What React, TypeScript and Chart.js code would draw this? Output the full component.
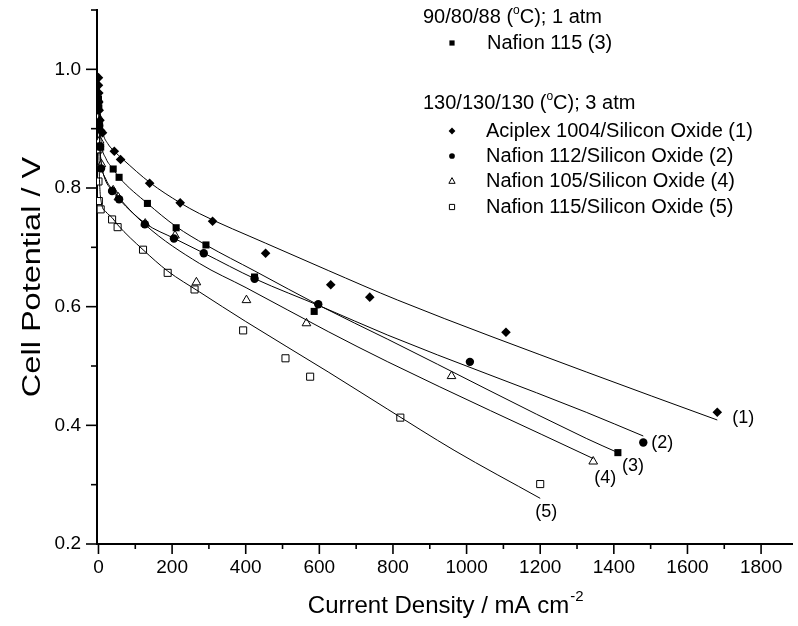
import React, { useEffect, useRef } from 'react';
import { Chart, registerables } from 'chart.js';

Chart.register(...registerables);

const FONT = '"Liberation Sans", Arial, Helvetica, sans-serif';

// ---- axes ----
const xMajorTicks = [0, 200, 400, 600, 800, 1000, 1200, 1400, 1600, 1800];
const xMinorTicks = [100, 300, 500, 700, 900, 1100, 1300, 1500, 1700];
const yMajorTicks = [0.2, 0.4, 0.6, 0.8, 1.0];
const yMinorTicks = [0.3, 0.5, 0.7, 0.9, 1.1];
const yTickLabels = ['0.2', '0.4', '0.6', '0.8', '1.0'];

// ---- measured points ----
// (1) Aciplex 1004/Silicon Oxide — diamonds
const aciplexX = [0, 0, 1, 1, 2, 4, 6, 11, 43, 60, 139, 222, 310, 454, 631, 737, 1107, 1681];
const aciplexY = [0.986, 0.973, 0.96, 0.945, 0.931, 0.914, 0.897, 0.893, 0.862, 0.848, 0.808, 0.775, 0.744, 0.69, 0.637, 0.616, 0.557, 0.422];
// (2) Nafion 112/Silicon Oxide — filled circles
const n112X = [0, 2, 4, 7, 37, 56, 126, 205, 286, 424, 597, 1009, 1480];
const n112Y = [0.945, 0.905, 0.87, 0.833, 0.795, 0.781, 0.739, 0.715, 0.69, 0.647, 0.604, 0.507, 0.371];
// (3) Nafion 115 — filled squares
const n115X = [0, 1, 3, 6, 40, 56, 133, 211, 292, 424, 586, 1411];
const n115Y = [0.95, 0.935, 0.905, 0.869, 0.832, 0.818, 0.774, 0.733, 0.704, 0.65, 0.592, 0.354];
// (4) Nafion 105/Silicon Oxide — open triangles
const n105X = [0, 3, 8, 40, 54, 127, 208, 266, 402, 565, 959, 1344];
const n105Y = [0.92, 0.88, 0.84, 0.796, 0.784, 0.74, 0.72, 0.641, 0.611, 0.572, 0.483, 0.339];
// (5) Nafion 115/Silicon Oxide — open squares
const n115sX = [0, 0, 1, 6, 37, 52, 121, 188, 261, 393, 508, 575, 820, 1200];
const n115sY = [0.865, 0.811, 0.778, 0.764, 0.747, 0.734, 0.696, 0.657, 0.629, 0.56, 0.513, 0.482, 0.413, 0.301];

// ---- fitted curves ----
const fit1X = [1, 3, 6, 12, 25, 43, 67, 140, 222, 274, 454, 624, 813, 1325, 1681];
const fit1Y = [0.985, 0.945, 0.918, 0.893, 0.875, 0.862, 0.848, 0.809, 0.775, 0.757, 0.707, 0.661, 0.611, 0.49, 0.409];
const fit2X = [1, 3, 7, 15, 38, 56, 128, 206, 287, 425, 606, 786, 1325, 1480];
const fit2Y = [0.93, 0.88, 0.845, 0.82, 0.795, 0.781, 0.74, 0.715, 0.69, 0.647, 0.6, 0.552, 0.422, 0.382];
const fit3X = [1, 3, 8, 20, 40, 56, 133, 211, 292, 425, 606, 786, 1325, 1411];
const fit3Y = [0.95, 0.915, 0.875, 0.85, 0.832, 0.818, 0.774, 0.735, 0.704, 0.66, 0.6, 0.545, 0.378, 0.354];
const fit4X = [1, 3, 8, 20, 40, 127, 274, 401, 624, 786, 1344];
const fit4Y = [0.93, 0.88, 0.84, 0.815, 0.796, 0.738, 0.673, 0.632, 0.558, 0.507, 0.344];
const fit5X = [1, 3, 8, 20, 37, 52, 121, 188, 274, 400, 624, 786, 966, 1200];
const fit5Y = [0.86, 0.81, 0.775, 0.76, 0.75, 0.738, 0.696, 0.66, 0.625, 0.575, 0.49, 0.427, 0.358, 0.277];

const curveLabels = ['(1)', '(2)', '(3)', '(4)', '(5)'];

const legendHeader1 = ['90/80/88 (', 'o', 'C); 1 atm'];
const legendHeader2 = ['130/130/130 (', 'o', 'C); 3 atm'];
const legendItem1 = 'Nafion 115 (3)';
const legendItems2 = [
  'Aciplex 1004/Silicon Oxide (1)',
  'Nafion 112/Silicon Oxide (2)',
  'Nafion 105/Silicon Oxide (4)',
  'Nafion 115/Silicon Oxide (5)',
];

const xTitle = 'Current Density / mA cm';
const xTitleSup = '-2';
const yTitle = 'Cell Potential / V';

const pts = (xs: number[], ys: number[]) => xs.map((x, i) => ({ x, y: ys[i] }));

function drawMarker(ctx: CanvasRenderingContext2D, kind: string, x: number, y: number, s: number) {
  ctx.save();
  ctx.fillStyle = '#000';
  ctx.strokeStyle = '#000';
  ctx.lineWidth = 1;
  ctx.beginPath();
  if (kind === 'rect') {
    ctx.rect(x - s, y - s, 2 * s, 2 * s);
    ctx.fill();
  } else if (kind === 'openrect') {
    ctx.fillStyle = '#fff';
    ctx.rect(x - s, y - s, 2 * s, 2 * s);
    ctx.fill();
    ctx.stroke();
  } else if (kind === 'diamond') {
    ctx.moveTo(x, y - s * 1.3);
    ctx.lineTo(x + s * 1.3, y);
    ctx.lineTo(x, y + s * 1.3);
    ctx.lineTo(x - s * 1.3, y);
    ctx.closePath();
    ctx.fill();
  } else if (kind === 'circle') {
    ctx.arc(x, y, s * 1.1, 0, Math.PI * 2);
    ctx.fill();
  } else if (kind === 'triangle') {
    ctx.fillStyle = '#fff';
    ctx.moveTo(x, y - s * 1.3);
    ctx.lineTo(x + s * 1.2, y + s * 0.9);
    ctx.lineTo(x - s * 1.2, y + s * 0.9);
    ctx.closePath();
    ctx.fill();
    ctx.stroke();
  }
  ctx.restore();
}

function drawSupText(ctx: CanvasRenderingContext2D, parts: string[], x: number, y: number, size: number) {
  ctx.font = `${size}px ${FONT}`;
  ctx.textBaseline = 'middle';
  ctx.textAlign = 'left';
  ctx.fillText(parts[0], x, y);
  let cx = x + ctx.measureText(parts[0]).width;
  ctx.font = `${Math.round(size * 0.62)}px ${FONT}`;
  ctx.fillText(parts[1], cx, y - size * 0.32);
  cx += ctx.measureText(parts[1]).width;
  ctx.font = `${size}px ${FONT}`;
  ctx.fillText(parts[2], cx, y);
}

const decorPlugin = {
  id: 'decor',
  afterDraw(chart: any) {
    const ctx: CanvasRenderingContext2D = chart.ctx;
    const xs = chart.scales.x;
    const ys = chart.scales.y;
    const { left, bottom, top } = chart.chartArea;
    ctx.save();
    ctx.strokeStyle = '#000';
    ctx.fillStyle = '#000';
    ctx.lineWidth = 1.6;
    const line = (x1: number, y1: number, x2: number, y2: number) => {
      ctx.beginPath();
      ctx.moveTo(x1, y1);
      ctx.lineTo(x2, y2);
      ctx.stroke();
    };
    xMajorTicks.forEach((v) => { const p = xs.getPixelForValue(v); line(p, bottom, p, bottom + 10); });
    xMinorTicks.forEach((v) => { const p = xs.getPixelForValue(v); line(p, bottom, p, bottom + 5); });
    yMajorTicks.forEach((v) => { const p = ys.getPixelForValue(v); line(left, p, left - 11, p); });
    yMinorTicks.forEach((v) => { const p = ys.getPixelForValue(v); line(left, p, left - 6, p); });

    // tick labels
    ctx.font = `19px ${FONT}`;
    ctx.textAlign = 'center';
    ctx.textBaseline = 'top';
    xMajorTicks.forEach((v) => ctx.fillText(String(v), xs.getPixelForValue(v), bottom + 14));
    ctx.textAlign = 'right';
    ctx.textBaseline = 'middle';
    yMajorTicks.forEach((v, i) => ctx.fillText(yTickLabels[i], left - 16, ys.getPixelForValue(v)));

    // axis titles
    ctx.font = `24px ${FONT}`;
    ctx.textAlign = 'left';
    ctx.textBaseline = 'middle';
    const w = ctx.measureText(xTitle).width;
    const tx = (chart.chartArea.left + chart.chartArea.right) / 2 - w / 2 - 6;
    ctx.fillText(xTitle, tx, 606);
    ctx.font = `15px ${FONT}`;
    ctx.fillText(xTitleSup, tx + w + 1, 597);

    ctx.save();
    ctx.translate(33, (top + bottom) / 2);
    ctx.rotate(-Math.PI / 2);
    ctx.scale(1.25, 1);
    ctx.font = `26px ${FONT}`;
    ctx.textAlign = 'center';
    ctx.textBaseline = 'middle';
    ctx.fillText(yTitle, 0, 0);
    ctx.restore();

    // curve labels
    const fits = [[fit1X, fit1Y], [fit2X, fit2Y], [fit3X, fit3Y], [fit4X, fit4Y], [fit5X, fit5Y]];
    const offs = [[15, -2], [8, 7], [4, 13], [1, 19], [-5, 14]];
    ctx.font = `18px ${FONT}`;
    ctx.textAlign = 'left';
    ctx.textBaseline = 'middle';
    fits.forEach(([fx, fy], i) => {
      const px = xs.getPixelForValue(fx[fx.length - 1]);
      const py = ys.getPixelForValue(fy[fy.length - 1]);
      ctx.fillText(curveLabels[i], px + offs[i][0], py + offs[i][1]);
    });

    // legend
    drawSupText(ctx, legendHeader1, 423, 17, 20);
    drawMarker(ctx, 'rect', 452, 43, 2.6);
    ctx.font = `20px ${FONT}`;
    ctx.textAlign = 'left';
    ctx.textBaseline = 'middle';
    ctx.fillText(legendItem1, 487, 43);
    drawSupText(ctx, legendHeader2, 423, 103, 20);
    const kinds = ['diamond', 'circle', 'triangle', 'openrect'];
    const rows = [131, 156, 181, 207];
    legendItems2.forEach((t, i) => {
      drawMarker(ctx, kinds[i], 452, rows[i], 2.6);
      ctx.font = `20px ${FONT}`;
      ctx.textAlign = 'left';
      ctx.textBaseline = 'middle';
      ctx.fillText(t, 486, rows[i]);
    });
    ctx.restore();
  },
};

const curve = (xs: number[], ys: number[]) => ({
  data: pts(xs, ys),
  showLine: true,
  borderColor: '#000',
  borderWidth: 1,
  pointRadius: 0,
  pointHoverRadius: 0,
  cubicInterpolationMode: 'monotone' as const,
  fill: false,
});

export default function App() {
  const ref = useRef<HTMLCanvasElement | null>(null);
  useEffect(() => {
    if (!ref.current) return;
    const chart = new Chart(ref.current, {
      type: 'scatter',
      data: {
        datasets: [
          curve(fit1X, fit1Y),
          curve(fit2X, fit2Y),
          curve(fit3X, fit3Y),
          curve(fit4X, fit4Y),
          curve(fit5X, fit5Y),
          {
            data: pts(aciplexX, aciplexY),
            pointStyle: 'rectRot',
            pointRadius: 4.8,
            backgroundColor: '#000',
            borderColor: '#000',
            borderWidth: 0,
          },
          {
            data: pts(n112X, n112Y),
            pointStyle: 'circle',
            pointRadius: 4.2,
            backgroundColor: '#000',
            borderColor: '#000',
            borderWidth: 0,
          },
          {
            data: pts(n115X, n115Y),
            pointStyle: 'rect',
            pointRadius: 5,
            backgroundColor: '#000',
            borderColor: '#000',
            borderWidth: 0,
          },
          {
            data: pts(n105X, n105Y),
            pointStyle: 'triangle',
            pointRadius: 5,
            backgroundColor: '#fff',
            borderColor: '#000',
            borderWidth: 1,
          },
          {
            data: pts(n115sX, n115sY),
            pointStyle: 'rect',
            pointRadius: 5,
            backgroundColor: '#fff',
            borderColor: '#000',
            borderWidth: 1,
          },
        ],
      },
      options: {
        animation: false,
        responsive: false,
        devicePixelRatio: 1,
        layout: { padding: { left: 0, top: 10, right: 1, bottom: 0 } },
        plugins: { legend: { display: false }, tooltip: { enabled: false }, title: { display: false } },
        events: [],
        scales: {
          x: {
            type: 'linear',
            min: -4,
            max: 1884,
            grid: { display: false },
            border: { display: true, color: '#000', width: 2 },
            ticks: { display: false },
            afterFit: (s: any) => { s.height = 82; },
          },
          y: {
            type: 'linear',
            min: 0.2,
            max: 1.1,
            grid: { display: false },
            border: { display: true, color: '#000', width: 2 },
            ticks: { display: false },
            afterFit: (s: any) => { s.width = 97; },
          },
        },
      },
      plugins: [decorPlugin],
    });
    return () => chart.destroy();
  }, []);
  return (
    <div style={{ position: 'absolute', left: 0, top: 0, width: 798, height: 626, background: '#fff' }}>
      <canvas ref={ref} width={798} height={626} style={{ width: 798, height: 626, display: 'block' }} />
    </div>
  );
}
